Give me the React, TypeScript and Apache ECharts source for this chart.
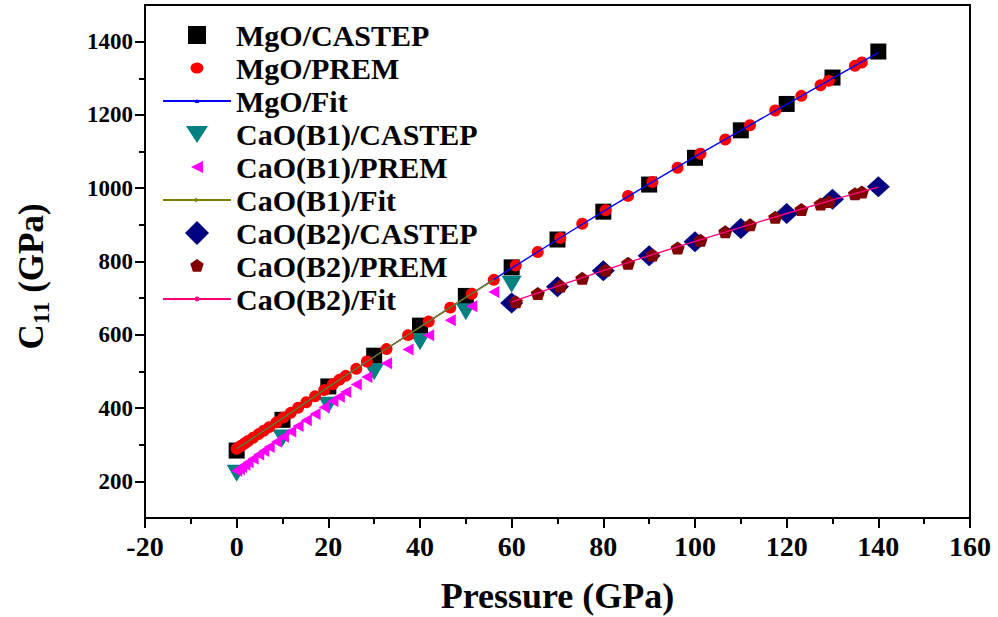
import React, { useEffect, useRef } from "react";
import * as echarts from "echarts";

const FONT = "Liberation Serif, Times New Roman, serif";

// ---- Data ----
const castepP = [0, 10, 20, 30, 40, 50, 60, 70, 80, 90, 100, 110, 120, 130, 140];
const mgoCastepC = [284, 368, 459, 543, 625, 706, 784, 860, 936, 1010, 1083, 1158, 1230, 1302, 1373];

const mgoPremP = [0, 0.6, 1.1, 1.8, 2.5, 3.6, 4.8, 5.9, 7.1, 8.7, 10.2, 11.8, 13.4, 15.2, 17.1, 19.1, 21.0, 22.4, 23.8, 26.1, 28.4, 32.7, 37.4, 41.9, 46.6, 51.3, 56.1, 60.9, 65.7, 70.6, 75.4, 80.5, 85.4, 90.7, 96.2, 101.2, 106.6, 112.0, 117.5, 123.2, 127.4, 129.2, 134.9, 136.4];
const mgoPremC = [289, 294, 298, 304, 310, 319, 329, 338, 348, 361, 374, 387, 401, 416, 432, 449, 465, 477, 488, 507, 527, 561, 599, 636, 674, 712, 750, 789, 826, 864, 903, 940, 979, 1017, 1056, 1094, 1133, 1172, 1212, 1252, 1281, 1293, 1334, 1343];

const mgoFitP = [0, 10, 20, 30, 40, 50, 60, 70, 80, 90, 100, 110, 120, 130, 140];
const mgoFitC = [289, 372, 457, 540, 621, 702, 782, 860, 937, 1012, 1086, 1158, 1229, 1300, 1370];

const b1CastepP = [0, 10, 20, 30, 40, 50, 60];
const b1CastepC = [222, 318, 408, 499, 581, 663, 738];

const b1PremP = [0, 0.6, 1.1, 1.8, 2.5, 3.6, 4.8, 5.9, 7.1, 8.7, 10.2, 11.8, 13.4, 15.2, 17.1, 19.1, 21.0, 22.4, 23.8, 26.1, 28.4, 32.7, 37.4, 41.9, 46.6, 51.3, 56.1];
const b1PremC = [229, 234, 239, 245, 252, 262, 273, 283, 294, 308, 322, 336, 351, 367, 384, 402, 419, 431, 444, 464, 485, 522, 560, 599, 640, 678, 717];

const b1FitP = [0, 10, 20, 30, 40, 50, 56.1];
const b1FitC = [289, 372, 457, 540, 621, 702, 750];

const b2CastepP = [60, 70, 80, 90, 100, 110, 120, 130, 140];
const b2CastepC = [687, 731, 775, 816, 854, 890, 931, 970, 1004];

const b2PremP = [60.9, 65.7, 70.6, 75.4, 80.5, 85.4, 90.7, 96.2, 101.2, 106.6, 112.0, 117.5, 123.2, 127.4, 129.2, 134.9, 136.4];
const b2PremC = [690, 713, 733, 754, 777, 795, 818, 837, 858, 881, 900, 921, 942, 957, 964, 985, 990];

const b2FitP = [60, 70, 80, 90, 100, 110, 120, 130, 140];
const b2FitC = [690, 733, 775, 816, 855, 893, 931, 968, 1003];

const xTickMin = -20;
const xTickMax = 160;
const yMajor = [200, 400, 600, 800, 1000, 1200, 1400];
const yMinor = [300, 500, 700, 900, 1100, 1300];

const names = [
  "MgO/CASTEP",
  "MgO/PREM",
  "MgO/Fit",
  "CaO(B1)/CASTEP",
  "CaO(B1)/PREM",
  "CaO(B1)/Fit",
  "CaO(B2)/CASTEP",
  "CaO(B2)/PREM",
  "CaO(B2)/Fit",
];

const zip = (xs: number[], ys: number[]) => xs.map((x, i) => [x, ys[i]]);

// symbols
const TRI_DOWN = "path://M0,0L20,0L10,16Z";
const TRI_LEFT = "path://M0,6L11,0L11,12Z";
const PENTAGON = "path://M7,0L14,5L11.5,13L2.5,13L0,5Z";

// legend icons (padded inside a 24x24 box)
const L_SQ = "path://M0,0M24,24M3,3L21,3L21,21L3,21Z";
const L_CIRC = "path://M0,0M24,24M5.5,12A6.5,5.5,0,1,1,18.5,12A6.5,5.5,0,1,1,5.5,12Z";
const L_TRI_DOWN = "path://M0,0M24,24M1,4L23,4L12,21Z";
const L_TRI_LEFT = "path://M0,0M24,24M6,12L18,6L18,18Z";
const L_DIAMOND = "path://M12,0L24,12L12,24L0,12Z";
const L_PENT = "path://M0,0M24,24M12,5L18.7,9.8L16.1,17.7L7.9,17.7L5.3,9.8Z";
const FIT_TRI = "path://M0,0M24,24M9,14.5L15,14.5L12,9.5Z";
const FIT_ARROW = "path://M0,0M24,24M9.5,9L15,12L9.5,15Z";
const FIT_DOT = "path://M0,0M24,24M9,12A3,3,0,1,1,15,12A3,3,0,1,1,9,12Z";

export default function App() {
  const ref = useRef<HTMLDivElement>(null);

  useEffect(() => {
    if (!ref.current) return;
    const chart = echarts.init(ref.current, null, { renderer: "svg" });

    const scatter = (name: string, xs: number[], ys: number[], symbol: string, size: any, color: string) => ({
      name,
      type: "scatter",
      data: zip(xs, ys),
      symbol,
      symbolSize: size,
      itemStyle: { color, opacity: 1 },
      emphasis: { disabled: true },
    });
    const fit = (name: string, xs: number[], ys: number[], symbol: string, color: string) => ({
      name,
      type: "line",
      data: zip(xs, ys),
      symbol,
      showSymbol: false,
      lineStyle: { color, width: 1.4 },
      itemStyle: { color },
      emphasis: { disabled: true },
      z: 5,
    });

    const legendText = { fontSize: 30, fontWeight: "bold", fontFamily: FONT, color: "#000", lineHeight: 24 };

    chart.setOption({
      animation: false,
      backgroundColor: "#ffffff",
      textStyle: { fontFamily: FONT },
      grid: {
        left: 145,
        right: 28,
        top: 5,
        bottom: 99,
        show: true,
        borderColor: "#000",
        borderWidth: 2,
        backgroundColor: "transparent",
        outerBoundsMode: "none",
      },
      legend: {
        orient: "vertical",
        left: 162,
        top: 20,
        itemWidth: 68,
        itemHeight: 24,
        itemGap: 3.0,
        padding: 0,
        textStyle: legendText,
        selectedMode: false,
        data: [
          { name: names[0], icon: L_SQ },
          { name: names[1], icon: L_CIRC },
          { name: names[2] },
          { name: names[3], icon: L_TRI_DOWN },
          { name: names[4], icon: L_TRI_LEFT },
          { name: names[5] },
          { name: names[6], icon: L_DIAMOND },
          { name: names[7], icon: L_PENT },
          { name: names[8] },
        ],
      },
      xAxis: {
        type: "value",
        min: xTickMin,
        max: xTickMax,
        interval: 20,
        name: "Pressure (GPa)",
        nameLocation: "middle",
        nameGap: 60,
        nameMoveOverlap: false,
        nameTextStyle: { fontSize: 36, fontWeight: "bold", fontFamily: FONT, color: "#000" },
        axisLine: { show: true, onZero: false, lineStyle: { color: "#000", width: 2 } },
        axisTick: { show: true, inside: false, length: 10, lineStyle: { color: "#000", width: 2 } },
        minorTick: { show: true, splitNumber: 2, length: 6, lineStyle: { color: "#000", width: 2 } },
        axisLabel: { fontSize: 28, fontWeight: "bold", fontFamily: FONT, color: "#000", margin: 14 },
        splitLine: { show: false },
        minorSplitLine: { show: false },
      },
      yAxis: [
        {
          type: "value",
          min: 100,
          max: 1500,
          interval: 100,
          position: "left",
          name: "{c|C}{s|11}{c| (GPa)}",
          nameLocation: "middle",
          nameGap: 92,
          nameRotate: 90,
          nameMoveOverlap: false,
          nameTextStyle: {
            fontSize: 35,
            fontWeight: "bold",
            fontFamily: FONT,
            color: "#000",
            padding: [0, 30, 0, 0],
            rich: {
              c: { fontSize: 35, fontWeight: "bold", fontFamily: FONT, color: "#000", lineHeight: 44, verticalAlign: "middle" },
              s: { fontSize: 24, fontWeight: "bold", fontFamily: FONT, color: "#000", lineHeight: 24, verticalAlign: "bottom" },
            },
          },
          axisLine: { show: true, onZero: false, lineStyle: { color: "#000", width: 2 } },
          axisTick: { show: true, inside: false, length: 10, customValues: yMajor, lineStyle: { color: "#000", width: 2 } },
          axisLabel: {
            customValues: yMajor,
            formatter: (v: number) => String(v),
            fontSize: 23,
            fontWeight: "bold",
            fontFamily: FONT,
            color: "#000",
            margin: 12,
          },
          splitLine: { show: false },
        },
        {
          type: "value",
          min: 100,
          max: 1500,
          interval: 100,
          position: "left",
          offset: 0,
          axisLine: { show: false, onZero: false },
          axisTick: { show: true, inside: false, length: 6, customValues: yMinor, lineStyle: { color: "#000", width: 2 } },
          axisLabel: { show: false },
          splitLine: { show: false },
        },
      ],
      series: [
        scatter(names[0], castepP, mgoCastepC, "rect", 16, "#000000"),
        scatter(names[3], b1CastepP, b1CastepC, TRI_DOWN, [20, 17], "#008080"),
        scatter(names[6], b2CastepP, b2CastepC, "diamond", [23, 21], "#000080"),
        scatter(names[1], mgoPremP, mgoPremC, "circle", 12, "#ff0000"),
        scatter(names[4], b1PremP, b1PremC, TRI_LEFT, [11, 12], "#ff00ff"),
        scatter(names[7], b2PremP, b2PremC, PENTAGON, [14, 13], "#800000"),
        fit(names[2], mgoFitP, mgoFitC, FIT_TRI, "#0000ff"),
        fit(names[5], b1FitP, b1FitC, FIT_ARROW, "#808000"),
        fit(names[8], b2FitP, b2FitC, FIT_DOT, "#ff0080"),
      ],
    });

    return () => chart.dispose();
  }, []);

  return (
    <div
      ref={ref}
      style={{ position: "fixed", left: 0, top: 0, width: 998, height: 617, background: "#fff" }}
    />
  );
}
